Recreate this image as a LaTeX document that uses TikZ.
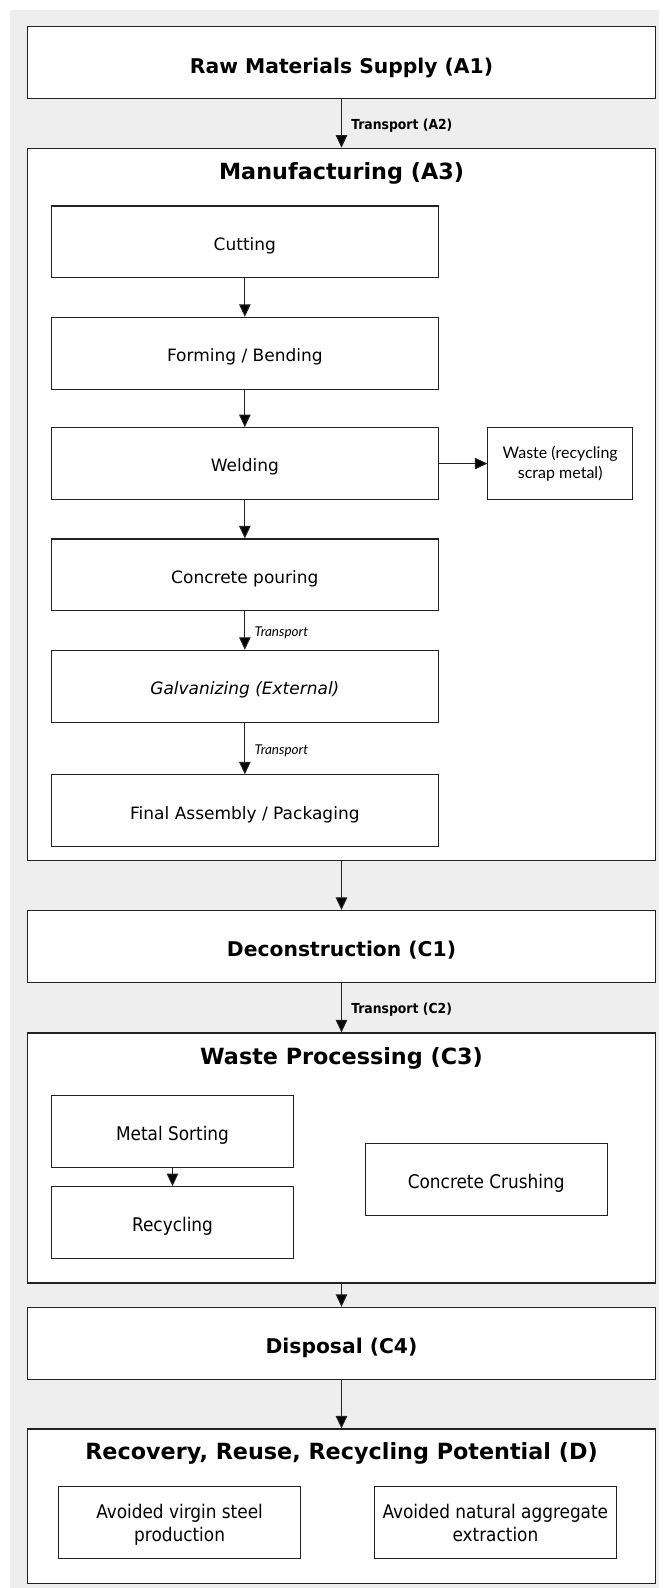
\documentclass[tikz,border=0pt]{standalone}
\usepackage{fontspec}
\setmainfont{DejaVu Sans}
\newfontfamily\condfont{DejaVu Sans Condensed}
\newfontfamily\latofont{Lato}
\usetikzlibrary{arrows.meta,positioning,calc}
\definecolor{bggray}{RGB}{238,238,238}
\definecolor{edgegray}{RGB}{34,34,34}

\begin{document}
\begin{tikzpicture}[x=1pt, y=1pt, node distance=48.5pt, >={Triangle[length=12.5pt,width=11.5pt]},
stage/.style = {draw=edgegray, line width=1.1pt, rectangle, fill=white, minimum width=628.5pt, minimum height=71.8pt, align=center, inner sep=0pt, text height=21pt, text depth=0pt, font=\fontsize{20.3}{24}\selectfont\bfseries},
group/.style = {draw=edgegray, line width=1.1pt, rectangle, fill=white, minimum width=628.5pt, inner sep=0pt},
gtitle/.style = {font=\fontsize{22.3}{26}\selectfont\bfseries},
block/.style = {draw=edgegray, line width=1.1pt, rectangle, fill=white, minimum width=386.6pt, minimum height=71.8pt, align=center, inner sep=0pt, text height=16.7pt, text depth=0pt, font=\fontsize{17}{20}\selectfont},
sblock/.style = {block, minimum width=241.9pt, text height=18.3pt, font=\condfont\fontsize{18.8}{23}\selectfont},
tblock/.style = {sblock, text height=, text depth=-2pt},
wblock/.style = {block, minimum width=144.7pt, text height=, text depth=, font=\latofont\fontsize{16}{20.5}\selectfont},
flow/.style = {draw=edgegray, line width=1pt, ->},
tlabel/.style = {right, xshift=6pt, yshift=-2pt, font=\condfont\bfseries\fontsize{13.8}{17}\selectfont},
ilabel/.style = {right, xshift=6pt, yshift=-2pt, font=\latofont\itshape\fontsize{13.5}{16}\selectfont},
                    ]
    \useasboundingbox (0,0) rectangle (662,-1588);
    \fill[bggray] (10,-10) rectangle (659,-1588);
    % product stage A1-A3
    \node [stage] at (341.5,-62.75)                          (raw){Raw Materials Supply (A1)};
    \node [group, minimum height=712.5pt, below=48.5pt of raw] (manu){};
    \node [gtitle] at ([yshift=-25.8pt]manu.north)            (manutitle){Manufacturing (A3)};
    \node [block, below right=57.7pt and 24.3pt of manu.north west] (cutting){Cutting};
    \node [block, below=38.5pt of cutting]                    (forming){Forming / Bending};
    \node [block, below=37.4pt of forming]                    (welding){Welding};
    \node [wblock, right=48.6pt of welding]                   (waste){Waste (recycling\\scrap metal)};
    \node [block, below=38.4pt of welding]                    (pouring){Concrete pouring};
    \node [block, below=38.5pt of pouring, font=\fontsize{17}{20}\selectfont\itshape] (galvanizing){Galvanizing (External)};
    \node [block, below=51.6pt of galvanizing]                (assembly){Final Assembly / Packaging};
    % end of life C1-C4
    \node [stage, below=48.6pt of manu]                       (decon){Deconstruction (C1)};
    \node [group, minimum height=250pt, below=49.6pt of decon] (wproc){};
    \node [gtitle] at ([yshift=-25.8pt]wproc.north)           (wproctitle){Waste Processing (C3)};
    \node [sblock, below right=62.8pt and 24.3pt of wproc.north west] (sorting){Metal Sorting};
    \node [sblock, below=18pt of sorting]                     (recycling){Recycling};
    \node [sblock, below right=110.3pt and 338pt of wproc.north west] (crushing){Concrete Crushing};
    \node [stage, below=23.3pt of wproc]                      (disposal){Disposal (C4)};
    % module D
    \node [group, minimum height=154.8pt, below=48.7pt of disposal] (recovery){};
    \node [gtitle] at ([yshift=-25.5pt]recovery.north)        (recoverytitle){Recovery, Reuse, Recycling Potential (D)};
    \node [tblock, below right=57.6pt and 31.4pt of recovery.north west] (virgin){Avoided virgin steel\\production};
    \node [tblock, right=72.8pt of virgin]                    (aggregate){Avoided natural aggregate\\extraction};
    \path[flow]
                   (raw)       edge node[tlabel]{Transport (A2)} (manu)
                   (cutting)   edge (forming)
                   (forming)   edge (welding)
                   (welding)   edge (waste)
                   (welding)   edge (pouring)
                   (pouring)   edge node[ilabel]{Transport} (galvanizing)
                   (galvanizing) edge node[ilabel]{Transport} (assembly)
                   (manu)      edge (decon)
                   (decon)     edge node[tlabel]{Transport (C2)} (wproc)
                   (sorting)   edge (recycling)
                   (wproc)     edge (disposal)
                   (disposal)  edge (recovery)
                    ;
\end{tikzpicture}
\end{document}
